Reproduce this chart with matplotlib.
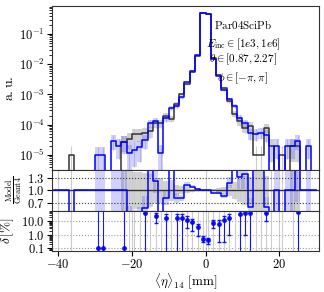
import numpy as np
import matplotlib
matplotlib.use("Agg")
import matplotlib.pyplot as plt
from matplotlib.ticker import FixedLocator, FuncFormatter, LogLocator, NullFormatter

plt.rcParams['mathtext.fontset'] = 'cm'
plt.rcParams['font.family'] = ['DejaVu Serif']
plt.rcParams['axes.edgecolor'] = '#333333'

nan = np.nan

# bins: index k runs from -29 to 20, width 1.43 mm, edge at 0
bin_width = 1.43
k_first, k_last = -29, 20

# normalised histograms (a.u.), one entry per bin, k = -29 ... 20
geant4 = [
    0, 0, 0, 1e-5, 0, 0, 0, 0, 0, 0,
    0, 0, 0, 2.7e-5, 3.5e-5, 5e-5, 5e-5, 5.5e-5, 6e-5, 1.1e-4,
    1.1e-4, 2.0e-4, 1.6e-4, 5.0e-4, 1.0e-3, 2.2e-3, 5.5e-3, 1.9e-2, 0.480, 0.470,
    1.6e-2, 4.5e-3, 1.6e-3, 6.0e-4, 2.3e-4, 1.3e-4, 8e-5, 9e-5, 1e-5, 1e-5,
    8e-5, 2e-5, 0, 1e-5, 0, 2e-5, 2e-5, 0, 0, 0,
]
model = [
    0, 0, 0, 0, 0, 0, 0, 0, 1e-5, 1e-5,
    0, 3e-5, 2e-5, 2.7e-5, 1.2e-5, 1.5e-5, 1.8e-5, 3.1e-5, 1.1e-4, 1.35e-4,
    1.2e-5, 1.62e-4, 3.5e-4, 4.05e-4, 8.1e-4, 2.49e-3, 6.0e-3, 1.97e-2, 0.4825, 0.4682,
    1.48e-2, 4.23e-3, 1.39e-3, 7.14e-4, 4.1e-4, 1.73e-4, 1.13e-4, 5.3e-5, 5e-5, 5.5e-5,
    4.7e-5, 0, 2e-5, 0, 2e-5, 2e-5, 3e-5, 0, 2e-5, 0,
]
weight_g4 = 1e-5     # weight of one Geant4 event
weight_model = 8e-6  # weight of one model event

# relative deviation [%] and its uncertainty
delta = [
    nan, nan, nan, nan, nan, nan, nan, nan, 0.1, 0.1,
    nan, nan, nan, 0.1, nan, nan, nan, 44, nan, 23,
    nan, 19, nan, 19, 19, 13, 9, 3.8, 0.52, 0.39,
    7.5, 6, 13, 19, nan, 33, 41, 41, nan, nan,
    41, nan, nan, nan, nan, nan, 49, nan, nan, nan,
]
delta_err = [
    nan, nan, nan, nan, nan, nan, nan, nan, 100, 100,
    nan, nan, nan, 100, nan, nan, nan, 44, nan, 16,
    nan, 19, nan, 19, 19, 10, 7, 3, 0.25, 0.2,
    4.5, 5.7, 12.7, 18, nan, 33, 40, 41, nan, nan,
    30, nan, nan, nan, nan, nan, 49, nan, nan, nan,
]

info = [r'$\mathrm{Par04SciPb}$',
        r'$E_{\mathrm{inc}}\in[1e3,1e6]$',
        r'$\theta\in[0.87,2.27]$',
        r'$\phi\in[-\pi,\pi]$']

edges = np.arange(k_first, k_last + 2) * bin_width
centers = 0.5 * (edges[:-1] + edges[1:])
g = np.array(geant4)
m = np.array(model)
eg = np.sqrt(g * weight_g4)
em = np.sqrt(m * weight_model)
d = np.array(delta)
de = np.array(delta_err)

fig = plt.figure(figsize=(3.24, 2.92), dpi=100)
ax = fig.add_axes([0.1614, 0.418, 0.8222, 0.563])
axr = fig.add_axes([0.1614, 0.2784, 0.8222, 0.1396], sharex=ax)
axd = fig.add_axes([0.1614, 0.1414, 0.8222, 0.137], sharex=ax)

tiny = 1e-9
# main panel: uncertainty boxes only where the lower edge stays positive
sel = g - eg > 1e-12
ax.bar(centers[sel], 2 * eg[sel], bottom=(g - eg)[sel], width=bin_width,
       color='gray', alpha=0.35, lw=0)
sel = g > 0
ax.vlines(centers[sel], np.maximum(g - eg, tiny)[sel], (g + eg)[sel], color='0.8', lw=0.8)
sel = m - em > 1e-12
ax.bar(centers[sel], 2 * em[sel], bottom=(m - em)[sel], width=bin_width,
       color='blue', alpha=0.18, lw=0)
sel = m > 0
ax.vlines(centers[sel], np.maximum(m - em, tiny)[sel], (m + em)[sel], color='#b0b0f0', lw=0.8)
ax.step(edges, np.append(g, g[-1]), where='post', color='#333333', lw=1.1)
ax.step(edges, np.append(m, m[-1]), where='post', color='blue', lw=1.1)
ax.set_yscale('log')
ax.set_ylim(3.2e-6, 0.87)
ax.set_xlim(-41.6, 30.7)
ax.yaxis.set_major_locator(FixedLocator([1e-5, 1e-4, 1e-3, 1e-2, 1e-1]))
ax.yaxis.set_minor_locator(LogLocator(base=10, subs=np.arange(2, 10), numticks=20))
ax.yaxis.set_minor_formatter(NullFormatter())
ax.yaxis.set_major_formatter(FuncFormatter(lambda v, p: r'$10^{%d}$' % round(np.log10(v))))
ax.tick_params(axis='x', length=0, labelbottom=False)
ax.set_ylabel(r'$\mathrm{a.u.}$', fontsize=10)
ax.yaxis.set_label_coords(-0.135, 0.5)
for txt, yy in zip(info, [0.887, 0.767, 0.674, 0.56]):
    ax.text(0.716, yy, txt, transform=ax.transAxes, ha='center', va='center', fontsize=8)

# ratio panel
ratio = np.where(g > 0, m / np.where(g > 0, g, 1), 1.0)
rel_g = np.where(g > 0, eg / np.where(g > 0, g, 1), 0)
rel_m = np.where(m > 0, em / np.where(m > 0, m, 1), 0)
axr.grid(axis='x', color='0.8', lw=0.8)
sel = (g > 0) & (m > 0)
axr.bar(centers[sel], 2 * rel_g[sel], bottom=1 - rel_g[sel], width=bin_width,
        color='gray', alpha=0.35, lw=0)
sel = m > 0
axr.bar(centers[sel], 2 * ratio[sel] * rel_m[sel], bottom=ratio[sel] * (1 - rel_m[sel]),
        width=bin_width, color='blue', alpha=0.18, lw=0)
axr.vlines(centers[g > 0], (1 - rel_g)[g > 0], (1 + rel_g)[g > 0], color='0.8', lw=0.8)
axr.axhline(1.0, color='#333333', lw=1.0)
axr.axhline(0.7, color='#333333', lw=0.8, ls=':')
axr.axhline(1.3, color='#333333', lw=0.8, ls=':')
axr.step(edges, np.append(ratio, ratio[-1]), where='post', color='blue', lw=1.1)
axr.set_ylim(0.5, 1.5)
axr.set_yticks([0.7, 1.0, 1.3])
axr.yaxis.set_major_formatter(FuncFormatter(lambda v, p: r'$%.1f$' % v))
axr.tick_params(axis='x', length=0, labelbottom=False)
axr.set_ylabel(r'$\frac{\mathrm{Model}}{\mathrm{Geant4}}$', fontsize=8.5)
axr.yaxis.set_label_coords(-0.105, 0.5)

# deviation panel
axd.set_yscale('log')
axd.grid(axis='x', color='0.8', lw=0.8)
axd.grid(axis='y', which='major', color='0.6', lw=0.8, ls=':')
axd.vlines(centers[g > 0], 1e-3, 1e3, color='0.8', lw=0.8)
lo = np.where(d - de > 0, de, d - 1e-4)
axd.errorbar(centers, d, yerr=[lo, de], fmt='o', ms=2.5, color='blue', ecolor='blue',
             elinewidth=0.8, capsize=1.5, alpha=0.9)
axd.set_ylim(0.065, 62)
axd.yaxis.set_major_locator(FixedLocator([0.1, 1, 10]))
axd.yaxis.set_minor_locator(LogLocator(base=10, subs=np.arange(2, 10), numticks=20))
axd.yaxis.set_minor_formatter(NullFormatter())
axd.yaxis.set_major_formatter(FuncFormatter(lambda v, p: r'$%.1f$' % v))
axd.set_xticks([-40, -20, 0, 20])
axd.xaxis.set_major_formatter(FuncFormatter(lambda v, p: r'$%d$' % v))
axd.set_ylabel(r'$\delta\,[\%]$', fontsize=9.5)
axd.yaxis.set_label_coords(-0.135, 0.5)
axd.set_xlabel(r'$\langle\eta\rangle_{14}\ [\mathrm{mm}]$', fontsize=9.5, labelpad=0)

for a in (ax, axr, axd):
    a.tick_params(labelsize=9, pad=2)

fig.savefig('out.png', dpi=100)
